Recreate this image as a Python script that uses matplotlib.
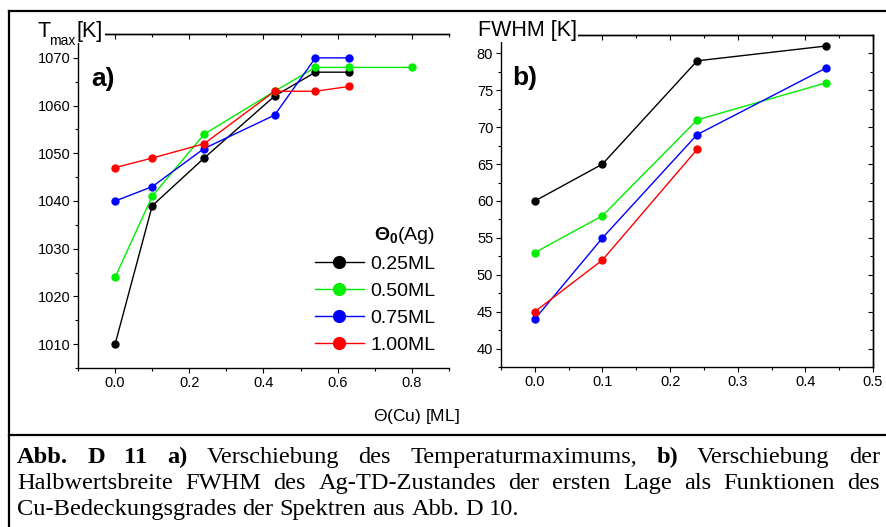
import matplotlib
matplotlib.use("Agg")
import matplotlib.pyplot as plt
from matplotlib.lines import Line2D
from matplotlib.ticker import MultipleLocator

plt.rcParams.update({
    "font.family": "Liberation Sans",
    "mathtext.fontset": "custom",
    "mathtext.rm": "Liberation Sans",
    "mathtext.bf": "Liberation Sans:bold",
    "font.size": 10.5,
    "axes.linewidth": 1.0,
    "xtick.major.size": 3.6, "ytick.major.size": 3.6,
    "xtick.minor.size": 2.2, "ytick.minor.size": 2.2,
    "xtick.major.width": 0.8, "ytick.major.width": 0.8,
    "xtick.minor.width": 0.8, "ytick.minor.width": 0.8,
})

W, H = 887, 527

# panel a: T_max vs Cu coverage
cu_a = [0.0, 0.1, 0.24, 0.43, 0.54, 0.63]
cu_a_green = [0.0, 0.1, 0.24, 0.43, 0.54, 0.63, 0.8]
tmax_025 = [1010, 1039, 1049, 1062, 1067, 1067]
tmax_050 = [1024, 1041, 1054, 1063, 1068, 1068, 1068]
tmax_075 = [1040, 1043, 1051, 1058, 1070, 1070]
tmax_100 = [1047, 1049, 1052, 1063, 1063, 1064]

# panel b: FWHM vs Cu coverage
cu_b = [0.0, 0.1, 0.24, 0.43]
cu_b_red = [0.0, 0.1, 0.24]
fwhm_025 = [60, 65, 79, 81]
fwhm_050 = [53, 58, 71, 76]
fwhm_075 = [44, 55, 69, 78]
fwhm_100 = [45, 52, 67]

labels = ["0.25ML", "0.50ML", "0.75ML", "1.00ML"]
colors = ["black", "#00ee00", "#0000ff", "#ff0000"]

fig = plt.figure(figsize=(W / 100, H / 100), dpi=100)


def px_axes(l, r, b, t):
    return fig.add_axes([l / W, 1 - b / H, (r - l) / W, (b - t) / H])


def fmt_axes(ax, right_spine):
    ax.tick_params(which="both", direction="out", pad=2, labelsize=10.5)
    ax.spines["right"].set_visible(right_spine)
    sx = ax.secondary_xaxis("top")
    sx.xaxis.set_major_locator(ax.xaxis.get_major_locator())
    sx.xaxis.set_minor_locator(ax.xaxis.get_minor_locator())
    sx.tick_params(which="both", direction="in", labeltop=False)
    if right_spine:
        sy = ax.secondary_yaxis("right")
        sy.yaxis.set_major_locator(ax.yaxis.get_major_locator())
        sy.yaxis.set_minor_locator(ax.yaxis.get_minor_locator())
        sy.tick_params(which="both", direction="in", labelright=False)


# ---- panel a
ax1 = px_axes(78, 449, 368, 34)
ys_a = [tmax_025, tmax_050, tmax_075, tmax_100]
xs_a = [cu_a, cu_a_green, cu_a, cu_a]
for x, y, c, lab in zip(xs_a, ys_a, colors, labels):
    ax1.plot(x, y, "-o", color=c, lw=1.0, ms=5, label=lab)
ax1.set_xlim(-0.1, 0.9)
ax1.set_ylim(1005, 1075)
ax1.xaxis.set_major_locator(MultipleLocator(0.2))
ax1.xaxis.set_minor_locator(MultipleLocator(0.1))
ax1.yaxis.set_major_locator(MultipleLocator(10))
ax1.yaxis.set_minor_locator(MultipleLocator(5))
ax1.set_xticks([0.0, 0.2, 0.4, 0.6, 0.8])
fmt_axes(ax1, False)
ax1.text(0.035, 0.865, "a)", transform=ax1.transAxes, fontsize=19,
         fontweight="bold", va="center")
leg = ax1.legend(loc="upper right", bbox_to_anchor=(0.99, 0.457), frameon=False,
                 fontsize=14, title=r"$\mathbf{\Theta_0}$(Ag)", title_fontsize=14,
                 handlelength=2.5, handletextpad=0.35, labelspacing=0.48,
                 markerscale=1.7, borderpad=0, alignment="right")

# ---- panel b
ax2 = px_axes(501, 873, 367, 35)
ys_b = [fwhm_025, fwhm_050, fwhm_075, fwhm_100]
xs_b = [cu_b, cu_b, cu_b, cu_b_red]
for x, y, c in zip(xs_b, ys_b, colors):
    ax2.plot(x, y, "-o", color=c, lw=1.0, ms=5)
ax2.set_xlim(-0.05, 0.5)
ax2.set_ylim(37.5, 82.5)
ax2.xaxis.set_major_locator(MultipleLocator(0.1))
ax2.xaxis.set_minor_locator(MultipleLocator(0.05))
ax2.yaxis.set_major_locator(MultipleLocator(5))
ax2.yaxis.set_minor_locator(MultipleLocator(2.5))
fmt_axes(ax2, True)
ax2.text(0.03, 0.87, "b)", transform=ax2.transAxes, fontsize=19,
         fontweight="bold", va="center")

# axis titles (white box hides spine end like in the original)
box = dict(facecolor="white", edgecolor="none", pad=1)
fig.text(37 / W, 1 - 37 / H, "T", fontsize=15.5, va="baseline", bbox=box)
fig.text(49 / W, 1 - 45 / H, "max", fontsize=10, va="baseline", bbox=box)
fig.text(77 / W, 1 - 37 / H, "[K]", fontsize=15.5, va="baseline", bbox=box)
fig.text(478 / W, 1 - 36 / H, "FWHM [K]", fontsize=15.5, va="baseline", bbox=box)
fig.text(416 / W, 1 - 416 / H, r"$\Theta$(Cu) [ML]", fontsize=12.5, ha="center", va="center")

# frame lines
for xs, ys in [([9, 9], [11, H]), ([9, W], [11, 11]), ([9, W], [435, 435])]:
    fig.add_artist(Line2D([x / W for x in xs], [1 - y / H for y in ys],
                          color="black", lw=1.6))

# caption, justified like the thesis text
cap_fs = 17.6
line1 = [("Abb.", True), ("D", True), ("11", True), ("a)", True),
         ("Verschiebung", False), ("des", False), ("Temperaturmaximums,", False),
         ("b)", True), ("Verschiebung", False), ("der", False)]
line2 = [(w, False) for w in
         "Halbwertsbreite FWHM des Ag-TD-Zustandes der ersten Lage als Funktionen des".split()]
line3 = [(w, False) for w in
         "Cu-Bedeckungsgrades der Spektren aus Abb. D 10.".split()]

renderer = fig.canvas.get_renderer()


def caption_line(words, base_y, justify):
    x0, x1 = 17, 880
    texts = []
    for w, bold in words:
        texts.append(fig.text(0, 1 - base_y / H, w, fontsize=cap_fs,
                              family="Liberation Serif", va="baseline",
                              fontweight="bold" if bold else "normal"))
    widths = [t.get_window_extent(renderer).width for t in texts]
    if justify:
        gap = (x1 - x0 - sum(widths)) / (len(words) - 1)
    else:
        gap = cap_fs * 0.25 * 100 / 72
    x = x0
    for t, wd in zip(texts, widths):
        t.set_x(x / W)
        x += wd + gap


caption_line(line1, 463, True)
caption_line(line2, 489, True)
caption_line(line3, 515, False)

fig.savefig("out.png", dpi=100)
